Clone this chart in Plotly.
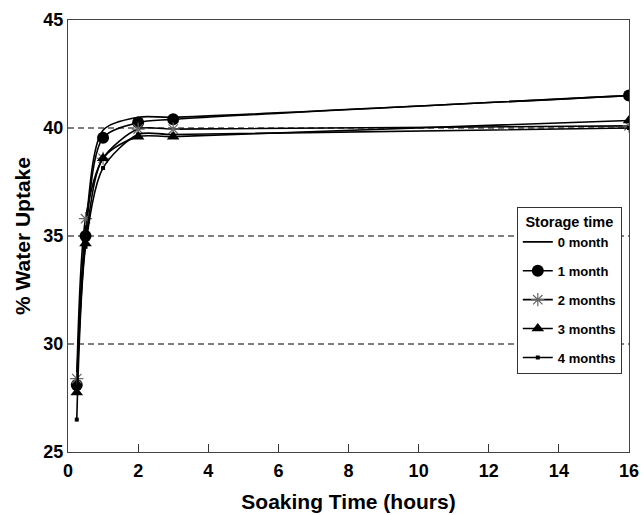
import plotly.graph_objects as go

soak_hours = [0.25, 0.5, 1, 2, 3, 16]
month0 = [28.3, 35.3, 39.9, 40.5, 40.5, 41.5]
month1 = [28.1, 35.0, 39.55, 40.25, 40.4, 41.5]
month2 = [28.4, 35.8, 38.6, 39.95, 39.95, 40.1]
month3 = [27.75, 34.65, 38.6, 39.6, 39.6, 40.35]
month4 = [26.5, 34.5, 38.15, 39.7, 39.7, 40.0]
series_names = ["0 month", "1 month", "2 months", "3 months", "4 months"]
grid_values = [30, 35, 40]
x_ticks = [0, 2, 4, 6, 8, 10, 12, 14, 16]
y_ticks = [25, 30, 35, 40, 45]

FONT = "Liberation Sans"
styles = [
    dict(mode="lines", marker=dict()),
    dict(mode="lines+markers", marker=dict(symbol="circle", size=12, color="black")),
    dict(mode="lines+markers", marker=dict(symbol="asterisk-open", size=11, color="#666666",
                                           line=dict(width=1.2, color="#666666"))),
    dict(mode="lines+markers", marker=dict(symbol="triangle-up", size=11, color="black")),
    dict(mode="lines+markers", marker=dict(symbol="square", size=4, color="black")),
]

fig = go.Figure()
for i, (name, ys, st) in enumerate(zip(series_names, [month0, month1, month2, month3, month4], styles)):
    fig.add_trace(go.Scatter(
        x=soak_hours, y=ys, name=name, mode=st["mode"], marker=st["marker"],
        legendgroup=f"g{i}",
        line=dict(color="black", width=1.6, shape="spline", smoothing=0.8),
    ))

for g in grid_values:
    fig.add_shape(type="line", xref="paper", x0=0, x1=1, yref="y", y0=g, y1=g,
                  line=dict(color="black", width=1, dash="6px,4px"), layer="below")

fig.update_layout(
    width=644, height=515,
    margin=dict(l=68, r=15, t=20, b=63),
    paper_bgcolor="white", plot_bgcolor="white",
    font=dict(family=FONT, color="black", size=17, weight="bold"),
    xaxis=dict(range=[0, 16], tickvals=x_ticks, ticks="inside", ticklen=8, tickcolor="#333333",
               showline=True, linecolor="#444444", linewidth=1.2, mirror=True, showgrid=False,
               zeroline=False, tickfont=dict(size=18, weight="bold"), automargin=False,
               ticklabelstandoff=2,
               title=dict(text="Soaking Time (hours)", font=dict(size=21, weight="bold"), standoff=14)),
    yaxis=dict(range=[25, 45], tickvals=y_ticks, ticks="", showline=True, linecolor="#444444",
               linewidth=1.2, mirror=True, showgrid=False, zeroline=False, automargin=False,
               tickfont=dict(size=18, weight="bold"),
               title=dict(text="% Water Uptake", font=dict(size=21, weight="bold"), standoff=6)),
    legend=dict(title=dict(text="Storage time", font=dict(size=14.5, weight="bold"), side="top center"),
                font=dict(size=13, weight="bold"), x=0.8, y=0.567, xanchor="left", yanchor="top",
                bgcolor="white", bordercolor="#333333", borderwidth=1, tracegroupgap=9,
                traceorder="grouped", itemwidth=30),
    showlegend=True,
)

fig.write_html("out.html")
